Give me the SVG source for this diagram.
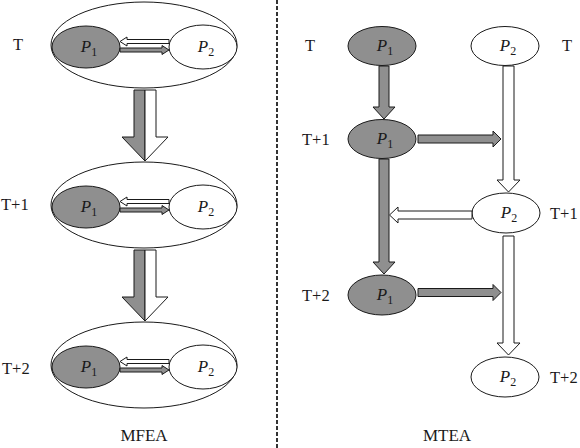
<svg xmlns="http://www.w3.org/2000/svg" width="580" height="448" viewBox="0 0 580 448">
<style>
.bg{fill:#fff}
.big{fill:#fff;stroke:#1a1a1a;stroke-width:1}
.p1{fill:#8f8f8f;stroke:#1a1a1a;stroke-width:1}
.p2{fill:#fff;stroke:#1a1a1a;stroke-width:1}
.ag{fill:#8f8f8f;stroke:#1a1a1a;stroke-width:1;stroke-linejoin:miter}
.aw{fill:#fff;stroke:#1a1a1a;stroke-width:1;stroke-linejoin:miter}
.lbl{font-family:"Liberation Serif","Times New Roman",serif;font-size:16.5px;fill:#1a1a1a}
.pl{font-family:"Liberation Serif","Times New Roman",serif;font-size:17px;font-style:italic;fill:#1a1a1a;text-anchor:middle}
.sub{font-size:12px;font-style:normal}
.title{font-family:"Liberation Serif","Times New Roman",serif;font-size:17px;fill:#1a1a1a;text-anchor:middle}
.dash{stroke:#333;stroke-width:2;stroke-dasharray:4 2;fill:none}
</style>
<rect class="bg" x="0" y="0" width="580" height="448"/>

<line class="dash" x1="277" y1="0" x2="277" y2="448"/>

<!-- MFEA -->
<g id="mfea-T">
<ellipse class="big" cx="144" cy="45" rx="93" ry="43"/>
<ellipse class="p1" cx="86" cy="47" rx="34" ry="21"/>
<ellipse class="p2" cx="203" cy="47" rx="34" ry="22"/>
<text class="pl" x="89" y="52">P<tspan class="sub" dy="4">1</tspan></text>
<text class="pl" x="206" y="52">P<tspan class="sub" dy="4">2</tspan></text>
</g>
<g id="mfea-T1">
<ellipse class="big" cx="144" cy="205" rx="93" ry="43"/>
<ellipse class="p1" cx="86" cy="207" rx="34" ry="21"/>
<ellipse class="p2" cx="203" cy="207" rx="34" ry="22"/>
<text class="pl" x="89" y="212">P<tspan class="sub" dy="4">1</tspan></text>
<text class="pl" x="206" y="212">P<tspan class="sub" dy="4">2</tspan></text>
</g>
<g id="mfea-T2">
<ellipse class="big" cx="144" cy="365" rx="93" ry="43"/>
<ellipse class="p1" cx="86" cy="367" rx="34" ry="21"/>
<ellipse class="p2" cx="203" cy="367" rx="34" ry="22"/>
<text class="pl" x="89" y="372">P<tspan class="sub" dy="4">1</tspan></text>
<text class="pl" x="206" y="372">P<tspan class="sub" dy="4">2</tspan></text>
</g>

<!-- MTEA nodes -->
<g id="mtea-p1-T">
<ellipse class="p1" cx="382" cy="46" rx="34" ry="19.5"/>
<text class="pl" x="385" y="51">P<tspan class="sub" dy="4">1</tspan></text>
</g>
<g id="mtea-p1-T1">
<ellipse class="p1" cx="382" cy="139" rx="34" ry="19.5"/>
<text class="pl" x="385" y="144">P<tspan class="sub" dy="4">1</tspan></text>
</g>
<g id="mtea-p1-T2">
<ellipse class="p1" cx="382" cy="295" rx="34" ry="20"/>
<text class="pl" x="385" y="300">P<tspan class="sub" dy="4">1</tspan></text>
</g>
<g id="mtea-p2-T">
<ellipse class="p2" cx="505" cy="46" rx="34" ry="19.5"/>
<text class="pl" x="508" y="51">P<tspan class="sub" dy="4">2</tspan></text>
</g>
<g id="mtea-p2-T1">
<ellipse class="p2" cx="506" cy="213" rx="34" ry="20"/>
<text class="pl" x="509" y="218">P<tspan class="sub" dy="4">2</tspan></text>
</g>
<g id="mtea-p2-T2">
<ellipse class="p2" cx="505" cy="377" rx="34" ry="20"/>
<text class="pl" x="508" y="382">P<tspan class="sub" dy="4">2</tspan></text>
</g>

<!-- connectors -->
<g id="connectors">
<!-- MFEA exchange arrows -->
<polygon class="aw" points="120,41.5 127,37 127,39.5 169,39.5 169,43.5 127,43.5 127,46"/>
<polygon class="ag" points="169,50 162,45.5 162,48 120,48 120,52 162,52 162,54.5"/>
<polygon class="aw" points="120,201.5 127,197 127,199.5 169,199.5 169,203.5 127,203.5 127,206"/>
<polygon class="ag" points="169,210 162,205.5 162,208 120,208 120,212 162,212 162,214.5"/>
<polygon class="aw" points="120,361.5 127,357 127,359.5 169,359.5 169,363.5 127,363.5 127,366"/>
<polygon class="ag" points="169,370 162,365.5 162,368 120,368 120,372 162,372 162,374.5"/>
<!-- MFEA generation arrows -->
<polygon class="ag" points="145,90 134,90 134,137 122,137 145,161"/>
<polygon class="aw" points="145,90 156,90 156,137 168,137 145,161"/>
<polygon class="ag" points="145,250 134,250 134,297 122,297 145,321"/>
<polygon class="aw" points="145,250 156,250 156,297 168,297 145,321"/>
<!-- MTEA P1 chain -->
<polygon class="ag" points="379,66 389,66 389,107 395,107 384,119 373,107 379,107"/>
<polygon class="ag" points="379,159 389,159 389,262 395,262 384,274 373,262 379,262"/>
<polygon class="ag" points="418,135 493,135 493,131 501,139 493,147 493,143 418,143"/>
<polygon class="ag" points="418,288.5 493,288.5 493,284.5 501,292.5 493,300.5 493,296.5 418,296.5"/>
<!-- MTEA P2 chain -->
<polygon class="aw" points="503,66 514,66 514,180 520,180 508.5,192 497,180 503,180"/>
<polygon class="aw" points="503,236 514,236 514,343 520,343 508.5,355 497,343 503,343"/>
<polygon class="aw" points="472,211 398,211 398,207 389.5,215 398,223 398,219 472,219"/>
</g>

<!-- labels -->
<text class="lbl" x="13" y="50">T</text>
<text class="lbl" x="1" y="210">T+1</text>
<text class="lbl" x="2" y="374">T+2</text>
<text class="title" x="144" y="441">MFEA</text>

<text class="lbl" x="305" y="51">T</text>
<text class="lbl" x="302" y="145">T+1</text>
<text class="lbl" x="302" y="301">T+2</text>
<text class="lbl" x="562" y="51">T</text>
<text class="lbl" x="550" y="219">T+1</text>
<text class="lbl" x="550" y="383">T+2</text>
<text class="title" x="447" y="441">MTEA</text>
</svg>
